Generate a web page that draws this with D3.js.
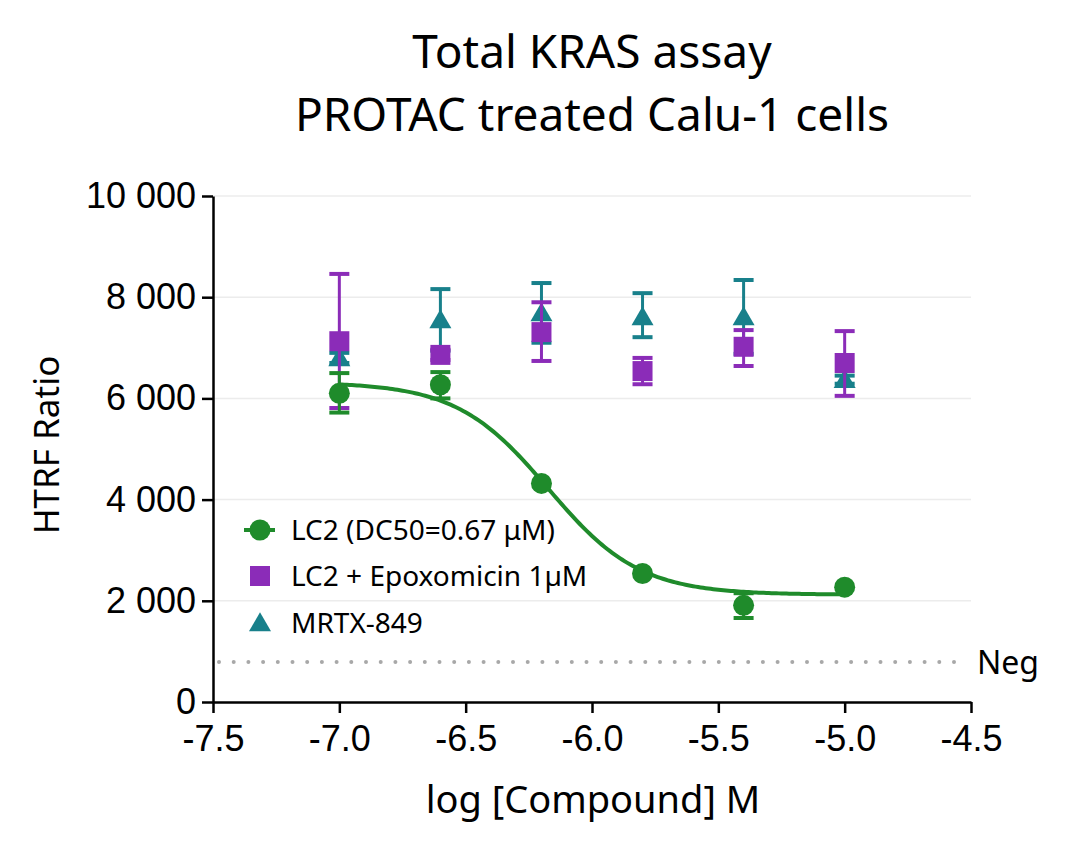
<!DOCTYPE html>
<html>
<head>
<meta charset="utf-8">
<script src="https://cdn.jsdelivr.net/npm/d3@7"></script>
<style>
  html, body { margin: 0; padding: 0; background: #fff; }
  svg { display: block; }
</style>
</head>
<body>
<script>
// ---------- data ----------
const titleLines = ["Total KRAS assay", "PROTAC treated Calu-1 cells"];
const xLabel = "log [Compound] M";
const yLabel = "HTRF Ratio";
const xTicks = [-7.5, -7.0, -6.5, -6.0, -5.5, -5.0, -4.5];
const yTicks = [0, 2000, 4000, 6000, 8000, 10000];
const logConc = [-7.0, -6.6, -6.2, -5.8, -5.4, -5.0];

const seriesNames = ["LC2 (DC50=0.67 μM)", "LC2 + Epoxomicin 1µM", "MRTX-849"];

// LC2
const lc2Mean = [6100, 6270, 4320, 2540, 1910, 2270];
const lc2Hi   = [6500, 6520, 4320, 2540, 2150, 2270];
const lc2Lo   = [5720, 6000, 4320, 2540, 1660, 2270];
// LC2 + Epoxomicin
const epoMean = [7130, 6860, 7310, 6540, 7020, 6700];
const epoHi   = [8460, 6960, 7900, 6800, 7350, 7330];
const epoLo   = [5810, 6760, 6740, 6280, 6640, 6050];
// MRTX-849
const mrtxMean = [6800, 7550, 7690, 7610, 7610, 6370];
const mrtxHi   = [6900, 8160, 8280, 8080, 8340, 6450];
const mrtxLo   = [6700, 6940, 7100, 7210, 6880, 6290];

// 4PL fit for LC2
const fitTop = 6320, fitBottom = 2120, fitLogDC50 = Math.log10(0.67e-6), fitHill = 2.4;
const negValue = 790;
const negLabel = "Neg";

// ---------- layout ----------
const W = 1080, H = 848;
const green = "#1f8b2b", purple = "#8b2cb8", teal = "#18808b";

const svg = d3.select("body").append("svg").attr("width", W).attr("height", H);

const x = d3.scaleLinear().domain([-7.5, -4.5]).range([213, 971]);
const y = d3.scaleLinear().domain([0, 10000]).range([702, 196]);

const tickFont = "'Liberation Sans', Arial, sans-serif";
const titleFont = "'Noto Sans', 'Open Sans', sans-serif";

// title
svg.selectAll("text.title").data(titleLines).enter().append("text")
  .attr("class", "title")
  .attr("x", 592).attr("y", (d, i) => 68 + i * 63)
  .attr("text-anchor", "middle")
  .style("font-family", titleFont).style("font-size", "46px").style("fill", "#000")
  .text(d => d);

// grid
svg.append("g").selectAll("line").data(yTicks.filter(d => d > 0)).enter().append("line")
  .attr("x1", x(-7.5)).attr("x2", x(-4.5))
  .attr("y1", d => y(d)).attr("y2", d => y(d))
  .attr("stroke", "#ececec").attr("stroke-width", 1.5);

// neg line
svg.append("line")
  .attr("x1", x(-7.5) + 6).attr("x2", x(-4.5) - 4)
  .attr("y1", y(negValue)).attr("y2", y(negValue))
  .attr("stroke", "#a8a8a8").attr("stroke-width", 4)
  .attr("stroke-linecap", "round").attr("stroke-dasharray", "0 14.7");
svg.append("text")
  .attr("x", 977).attr("y", y(negValue)).attr("dy", "0.36em")
  .style("font-family", titleFont).style("font-size", "32px").text(negLabel);

// axes
const xAxis = svg.append("g").attr("transform", `translate(0,${y(0)})`)
  .call(d3.axisBottom(x).tickValues(xTicks).tickFormat(d3.format(".1f")).tickSize(11).tickPadding(12).tickSizeOuter(0));
const yAxis = svg.append("g").attr("transform", `translate(${x(-7.5)},0)`)
  .call(d3.axisLeft(y).tickValues(yTicks).tickFormat(d => d3.format(",")(d).replace(/,/g, " ")).tickSize(11).tickPadding(6).tickSizeOuter(0));
[xAxis, yAxis].forEach(g => {
  g.select(".domain").attr("stroke", "#000").attr("stroke-width", 2.5);
  g.selectAll(".tick line").attr("stroke", "#000").attr("stroke-width", 2.5);
  g.selectAll(".tick text").style("font-family", tickFont).style("font-size", "36px").attr("fill", "#000");
});
xAxis.selectAll(".tick text").text(d => d3.format(".1f")(d).replace("−", "-"));

// axis titles
svg.append("text").attr("x", 593).attr("y", 813).attr("text-anchor", "middle")
  .style("font-family", titleFont).style("font-size", "38px").text(xLabel);
svg.append("text").attr("transform", "translate(59,445) rotate(-90)").attr("text-anchor", "middle")
  .style("font-family", titleFont).style("font-size", "35px").text(yLabel);

// helpers
function errorBars(g, mean, lo, hi, color) {
  const d = logConc.map((c, i) => ({ c, m: mean[i], lo: lo[i], hi: hi[i] }));
  g.selectAll("line.v").data(d).enter().append("line")
    .attr("x1", p => x(p.c)).attr("x2", p => x(p.c))
    .attr("y1", p => y(p.hi)).attr("y2", p => y(p.lo))
    .attr("stroke", color).attr("stroke-width", 3);
  ["hi", "lo"].forEach(k => {
    g.selectAll("line.cap" + k).data(d.filter(p => p[k] !== p.m)).enter().append("line")
      .attr("x1", p => x(p.c) - 10).attr("x2", p => x(p.c) + 10)
      .attr("y1", p => y(p[k])).attr("y2", p => y(p[k]))
      .attr("stroke", color).attr("stroke-width", 4);
  });
  return d;
}

const sym = {
  circle: d3.symbol().type(d3.symbolCircle).size(Math.PI * 10.5 * 10.5),
  square: d3.symbol().type(d3.symbolSquare).size(20 * 20),
  triangle: d3.symbol().type(d3.symbolTriangle).size(210)
};

// MRTX (teal) - bottom layer
const gT = svg.append("g");
const dT = errorBars(gT, mrtxMean, mrtxLo, mrtxHi, teal);
gT.selectAll("path").data(dT).enter().append("path")
  .attr("d", sym.triangle).attr("transform", p => `translate(${x(p.c)},${y(p.m) + 2})`).attr("fill", teal);

// Epoxomicin (purple)
const gP = svg.append("g");
const dP = errorBars(gP, epoMean, epoLo, epoHi, purple);
gP.selectAll("path").data(dP).enter().append("path")
  .attr("d", sym.square).attr("transform", p => `translate(${x(p.c)},${y(p.m)})`).attr("fill", purple);

// LC2 (green)
const gG = svg.append("g");
const dG = errorBars(gG, lc2Mean, lc2Lo, lc2Hi, green);
const fit = c => fitBottom + (fitTop - fitBottom) / (1 + Math.pow(10, (c - fitLogDC50) * fitHill));
const curveX = d3.range(-7.0, -4.999, 0.01);
gG.append("path")
  .datum(curveX)
  .attr("d", d3.line().x(c => x(c)).y(c => y(fit(c))))
  .attr("fill", "none").attr("stroke", green).attr("stroke-width", 4);
gG.selectAll("path.pt").data(dG).enter().append("path").attr("class", "pt")
  .attr("d", sym.circle).attr("transform", p => `translate(${x(p.c)},${y(p.m)})`).attr("fill", green);

// legend
const legend = svg.append("g");
const legY = [530, 576, 623];
const legendColors = [green, purple, teal];
const legendSyms = [sym.circle, sym.square, sym.triangle];
seriesNames.forEach((name, i) => {
  if (i === 0) {
    legend.append("line").attr("x1", 244).attr("x2", 275).attr("y1", legY[i]).attr("y2", legY[i])
      .attr("stroke", green).attr("stroke-width", 4);
  }
  legend.append("path").attr("d", legendSyms[i])
    .attr("transform", `translate(260,${legY[i] + (i === 2 ? 2 : 0)})`).attr("fill", legendColors[i]);
  legend.append("text").attr("x", 291).attr("y", legY[i]).attr("dy", "0.36em")
    .style("font-family", titleFont).style("font-size", "28px").text(name);
});
</script>
</body>
</html>
